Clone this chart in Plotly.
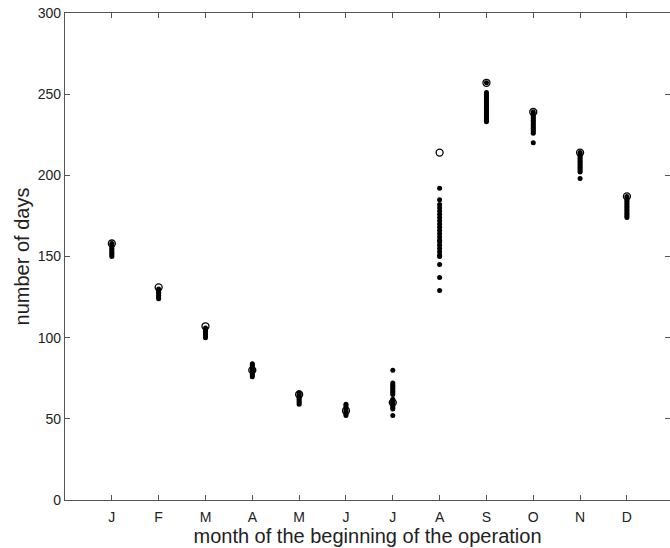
import plotly.graph_objects as go

months = ["J", "F", "M", "A", "M", "J", "J", "A", "S", "O", "N", "D"]
month_pos = list(range(1, 13))

jan = [150, 151, 152, 153, 154, 155, 156, 157, 158]
feb = [124, 125, 126, 127, 128, 129, 130]
mar = [100, 101, 102, 103, 104, 105, 106]
apr = [76, 77, 78, 79, 80, 80, 81, 82, 83, 84]
may = [59, 60, 61, 62, 63, 64, 65, 66]
jun = [52, 53, 54, 55, 56, 57, 58, 59]
jul = [52, 56, 57, 58, 59, 60, 60, 61, 62, 65, 66, 67, 68, 69, 70, 71, 72, 80]
aug = [129, 137, 145, 150, 151, 153, 155, 157, 159, 160, 162, 164, 166, 168,
       170, 172, 174, 176, 178, 180, 182, 185, 192]
sep = [233, 234, 235, 236, 237, 238, 239, 240, 241, 242, 243, 244, 245, 246,
       247, 248, 249, 250, 251, 257]
octo = [220, 226, 227, 228, 229, 230, 231, 232, 233, 234, 235, 236, 237, 238, 239]
nov = [198, 202, 203, 204, 205, 206, 207, 208, 209, 210, 211, 212, 213, 214]
dec = [174, 175, 176, 177, 178, 179, 180, 181, 182, 183, 184, 185, 186, 187]

# open-circle markers (one per month)
circle_vals = [158, 131, 107, 80, 65, 55, 60, 214, 257, 239, 214, 187]

series = [jan, feb, mar, apr, may, jun, jul, aug, sep, octo, nov, dec]

xs, ys = [], []
for m, vals in zip(month_pos, series):
    for v in vals:
        xs.append(m)
        ys.append(v)

fig = go.Figure()
fig.add_trace(go.Scatter(
    x=xs, y=ys, mode="markers",
    marker=dict(symbol="circle", size=5, color="black"),
    showlegend=False,
))
fig.add_trace(go.Scatter(
    x=month_pos, y=circle_vals, mode="markers",
    marker=dict(symbol="circle-open", size=7, color="black",
                line=dict(width=1.3, color="black")),
    showlegend=False,
))

FONT = "Liberation Sans, Arial, sans-serif"
axis_common = dict(
    showline=True, linecolor="#555555", linewidth=1.2, mirror="ticks",
    ticks="inside", tickcolor="#555555", ticklen=5, tickwidth=1,
    showgrid=False, zeroline=False,
    tickfont=dict(family=FONT, size=14, color="#222222"),
)

fig.update_layout(
    width=670, height=548,
    margin=dict(l=65, r=0, t=13, b=48),
    plot_bgcolor="white", paper_bgcolor="white",
    xaxis=dict(
        range=[0, 12.92], tickvals=month_pos, ticktext=months,
        ticklabelstandoff=4,
        title=dict(text="month of the beginning of the operation",
                   font=dict(family=FONT, size=20, color="#222222"),
                   standoff=0),
        **axis_common,
    ),
    yaxis=dict(
        range=[0, 300], tickvals=[0, 50, 100, 150, 200, 250, 300],
        title=dict(text="number of days",
                   font=dict(family=FONT, size=20, color="#222222"),
                   standoff=2),
        **axis_common,
    ),
)

fig.write_html("out.html")
